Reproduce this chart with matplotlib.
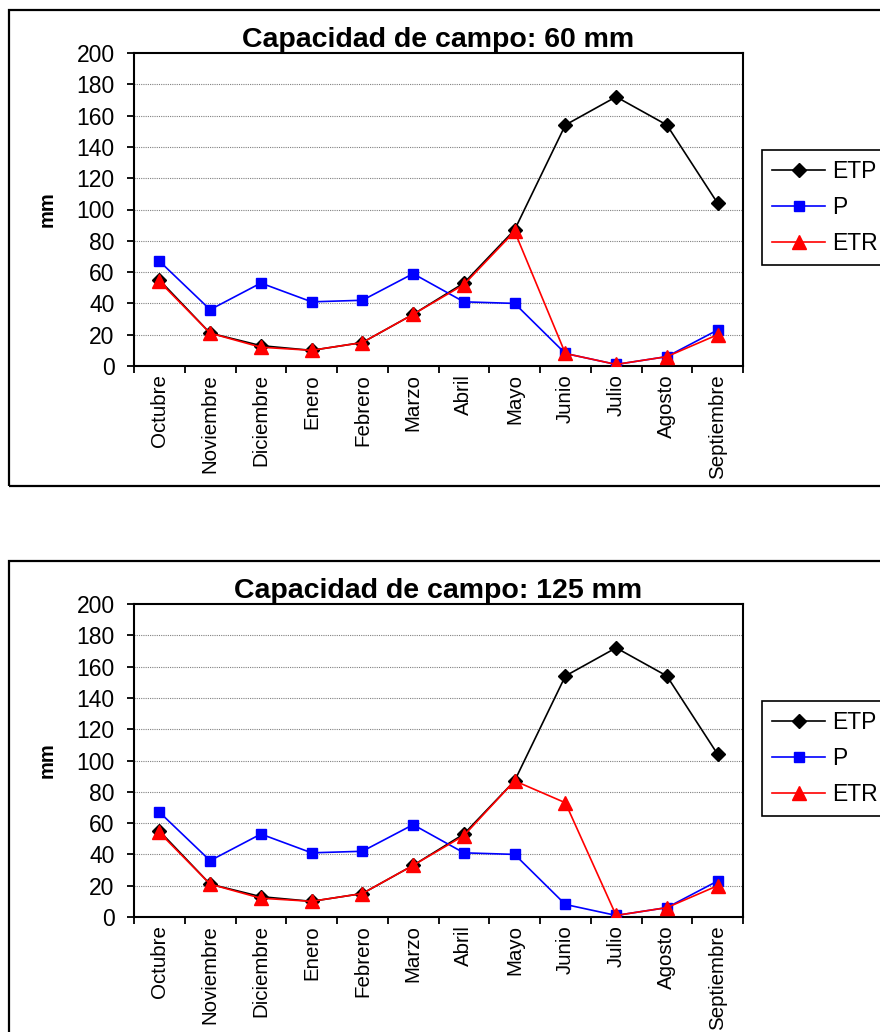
"""Monthly water balance: ETP, P and ETR for two field-capacity scenarios."""
import matplotlib.pyplot as plt
from matplotlib.patches import Rectangle
import numpy as np

plt.rcParams["font.family"] = ["Liberation Sans", "DejaVu Sans"]

months = ["Octubre", "Noviembre", "Diciembre", "Enero", "Febrero", "Marzo",
          "Abril", "Mayo", "Junio", "Julio", "Agosto", "Septiembre"]

etp = [55, 21, 13, 10, 15, 33, 53, 87, 154, 172, 154, 104]
p = [67, 36, 53, 41, 42, 59, 41, 40, 8, 1, 6, 23]
etr_60 = [54, 21, 12, 10, 15, 33, 52, 86, 8, 1, 6, 20]
etr_125 = [54, 21, 12, 10, 15, 33, 52, 87, 73, 1, 6, 20]

titles = ["Capacidad de campo: 60 mm", "Capacidad de campo: 125 mm"]

W, H = 880, 1032
fig = plt.figure(figsize=(W / 100, H / 100), dpi=100)


def fx(px):
    return px / W


def fy(py):
    return 1 - py / H


# outer frames around each chart (run off the right edge)
for top, bot in [(10, 486), (561, 1040)]:
    fig.patches.append(Rectangle((fx(9), fy(bot)), 1.2, (bot - top) / H,
                                 transform=fig.transFigure, fill=False,
                                 edgecolor="black", linewidth=1.6, zorder=0))


def draw_panel(ax, etr, title, legend_top):
    x = np.arange(len(months))
    ax.plot(x, etp, color="black", marker="D", markersize=6.8, linewidth=1.2,
            label="ETP", zorder=3)
    ax.plot(x, p, color="#0000ff", marker="s", markersize=7.5, linewidth=1.2,
            label="P", zorder=4)
    ax.plot(x, etr, color="#ff0000", marker="^", markersize=9.5, linewidth=1.2,
            label="ETR", zorder=5)

    ax.set_xlim(-0.5, 11.5)
    ax.set_ylim(0, 200)
    ax.set_yticks(range(0, 201, 20))
    ax.set_xticks(x)
    ax.set_xticklabels(months, rotation=90, fontsize=14.8)
    ax.set_xticks(np.arange(-0.5, 12, 1), minor=True)
    ax.tick_params(axis="x", which="major", length=0, pad=6)
    ax.tick_params(axis="x", which="minor", length=5, width=1.3, direction="out")
    ax.tick_params(axis="y", length=5, width=1.3, labelsize=16.5, pad=9)

    for y in range(20, 200, 20):
        ax.axhline(y, color="#808080", linewidth=0.8, linestyle=(0, (1, 1)),
                   zorder=1)
    for s in ax.spines.values():
        s.set_linewidth(1.5)

    ax.set_ylabel("mm", fontsize=14.5, fontweight="bold", labelpad=14)
    ax.set_title(title, fontsize=20.5, fontweight="bold", pad=3)

    leg = ax.legend(loc="upper left", bbox_to_anchor=(fx(762), fy(legend_top)),
                    bbox_transform=fig.transFigure, fontsize=16.5, frameon=True,
                    fancybox=False, edgecolor="black", framealpha=1,
                    handlelength=2.3, handletextpad=0.3, labelspacing=0.55,
                    borderpad=0.45, borderaxespad=0)
    leg.get_frame().set_linewidth(1.2)


ax1 = fig.add_axes([fx(134), fy(366), fx(743) - fx(134), (366 - 53) / H])
ax2 = fig.add_axes([fx(134), fy(917), fx(743) - fx(134), (917 - 604) / H])
draw_panel(ax1, etr_60, titles[0], 150)
draw_panel(ax2, etr_125, titles[1], 701)

fig.savefig("out.png", dpi=100)
